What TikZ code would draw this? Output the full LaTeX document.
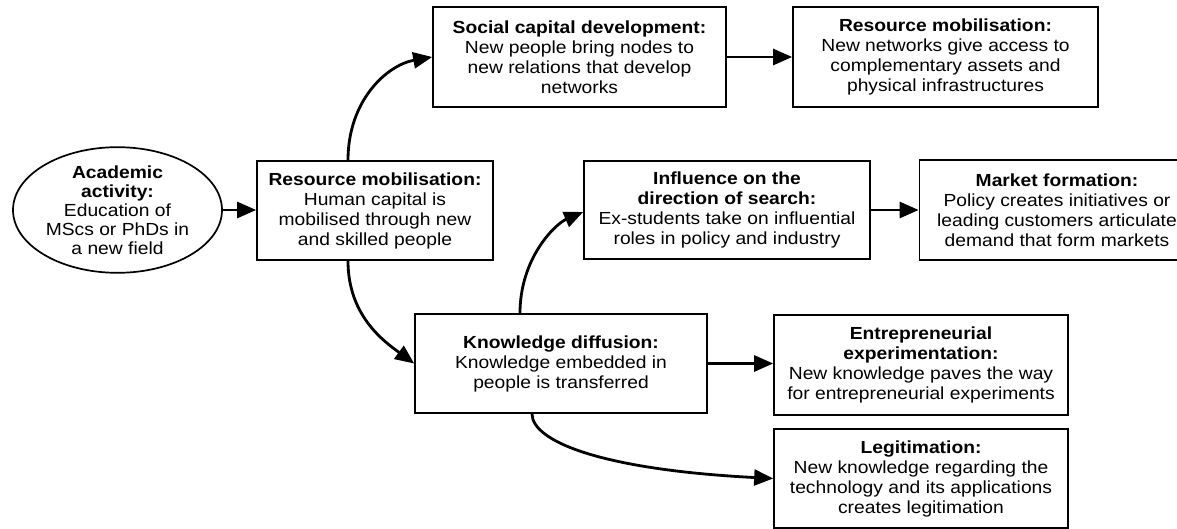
\documentclass[tikz,border=0pt]{standalone}
\usepackage{fontspec}
\setmainfont{Liberation Sans}[FakeStretch=1.1]
\usetikzlibrary{arrows.meta,shapes.geometric}
\tikzset{
  box/.style={draw, line width=1.7pt, rectangle, align=center, inner sep=0pt,
              font=\fontsize{17.5}{20}\selectfont},
  oval/.style={draw, line width=1.7pt, ellipse, align=center, inner sep=0pt,
              font=\fontsize{17.5}{19}\selectfont},
  flow/.style={line width=2.8pt, -{Triangle[length=19pt,width=16pt]}},
}
\begin{document}
\begin{tikzpicture}[x=1pt,y=-1pt]
\useasboundingbox (0,0) rectangle (1177,529);
\clip (0,0) rectangle (1177,529);
\fill[white] (0,0) rectangle (1177,529);

\node[oval, minimum width=209pt, minimum height=110pt] (ell) at (117.5,210)
  {\textbf{Academic}\\\textbf{activity:}\\Education of\\MScs or PhDs in\\a new field};

\node[box, minimum width=236pt, minimum height=99pt] (rm1) at (375,210.5)
  {\textbf{Resource mobilisation:}\\Human capital is\\mobilised through new\\and skilled people};

\node[box, minimum width=293pt, minimum height=100pt] (sc) at (579.5,57)
  {\textbf{Social capital development:}\\New people bring nodes to\\new relations that develop\\networks};

\node[box, minimum width=305pt, minimum height=100pt] (rm2) at (945.5,57)
  {\textbf{Resource mobilisation:}\\New networks give access to\\complementary assets and\\physical infrastructures};

\node[box, minimum width=286pt, minimum height=98pt] (inf) at (727,210)
  {\textbf{Influence on the}\\\textbf{direction of search:}\\Ex-students take on influential\\roles in policy and industry};

\node[box, minimum width=275pt, minimum height=100pt] (mf) at (1057,210)
  {\textbf{Market formation:}\\Policy creates initiatives or\\leading customers articulate\\demand that form markets};

\node[box, minimum width=292pt, minimum height=99pt] (kd) at (561,363.5)
  {\textbf{Knowledge diffusion:}\\Knowledge embedded in\\people is transferred};

\node[box, minimum width=294pt, minimum height=100pt] (en) at (921,365)
  {\textbf{Entrepreneurial}\\\textbf{experimentation:}\\New knowledge paves the way\\for entrepreneurial experiments};

\node[box, minimum width=294pt, minimum height=99pt] (lg) at (921,478.5)
  {\textbf{Legitimation:}\\New knowledge regarding the\\technology and its applications\\creates legitimation};

% straight connectors
\draw[flow] (ell.east) -- (ell.east -| rm1.west);
\draw[flow] (sc.east) -- (rm2.west);
\draw[flow] (inf.east) -- (inf.east -| mf.west);
\draw[flow] (kd.east) -- (kd.east -| en.west);

% curved connectors
\draw[flow] ([xshift=-27pt]rm1.north) .. controls +(0,-60) and +(-45,8) .. (sc.west);
\draw[flow] ([xshift=-27pt]rm1.south) .. controls +(0,55) and +(-30,-22) .. (kd.west);
\draw[flow] ([xshift=-41pt]kd.north) .. controls +(0,-55) and +(-28,12) .. ([yshift=-2pt]inf.west);
\draw[flow] ([xshift=-29pt]kd.south) .. controls +(0,27) and +(-174,-9) .. (lg.west);
\end{tikzpicture}
\end{document}
